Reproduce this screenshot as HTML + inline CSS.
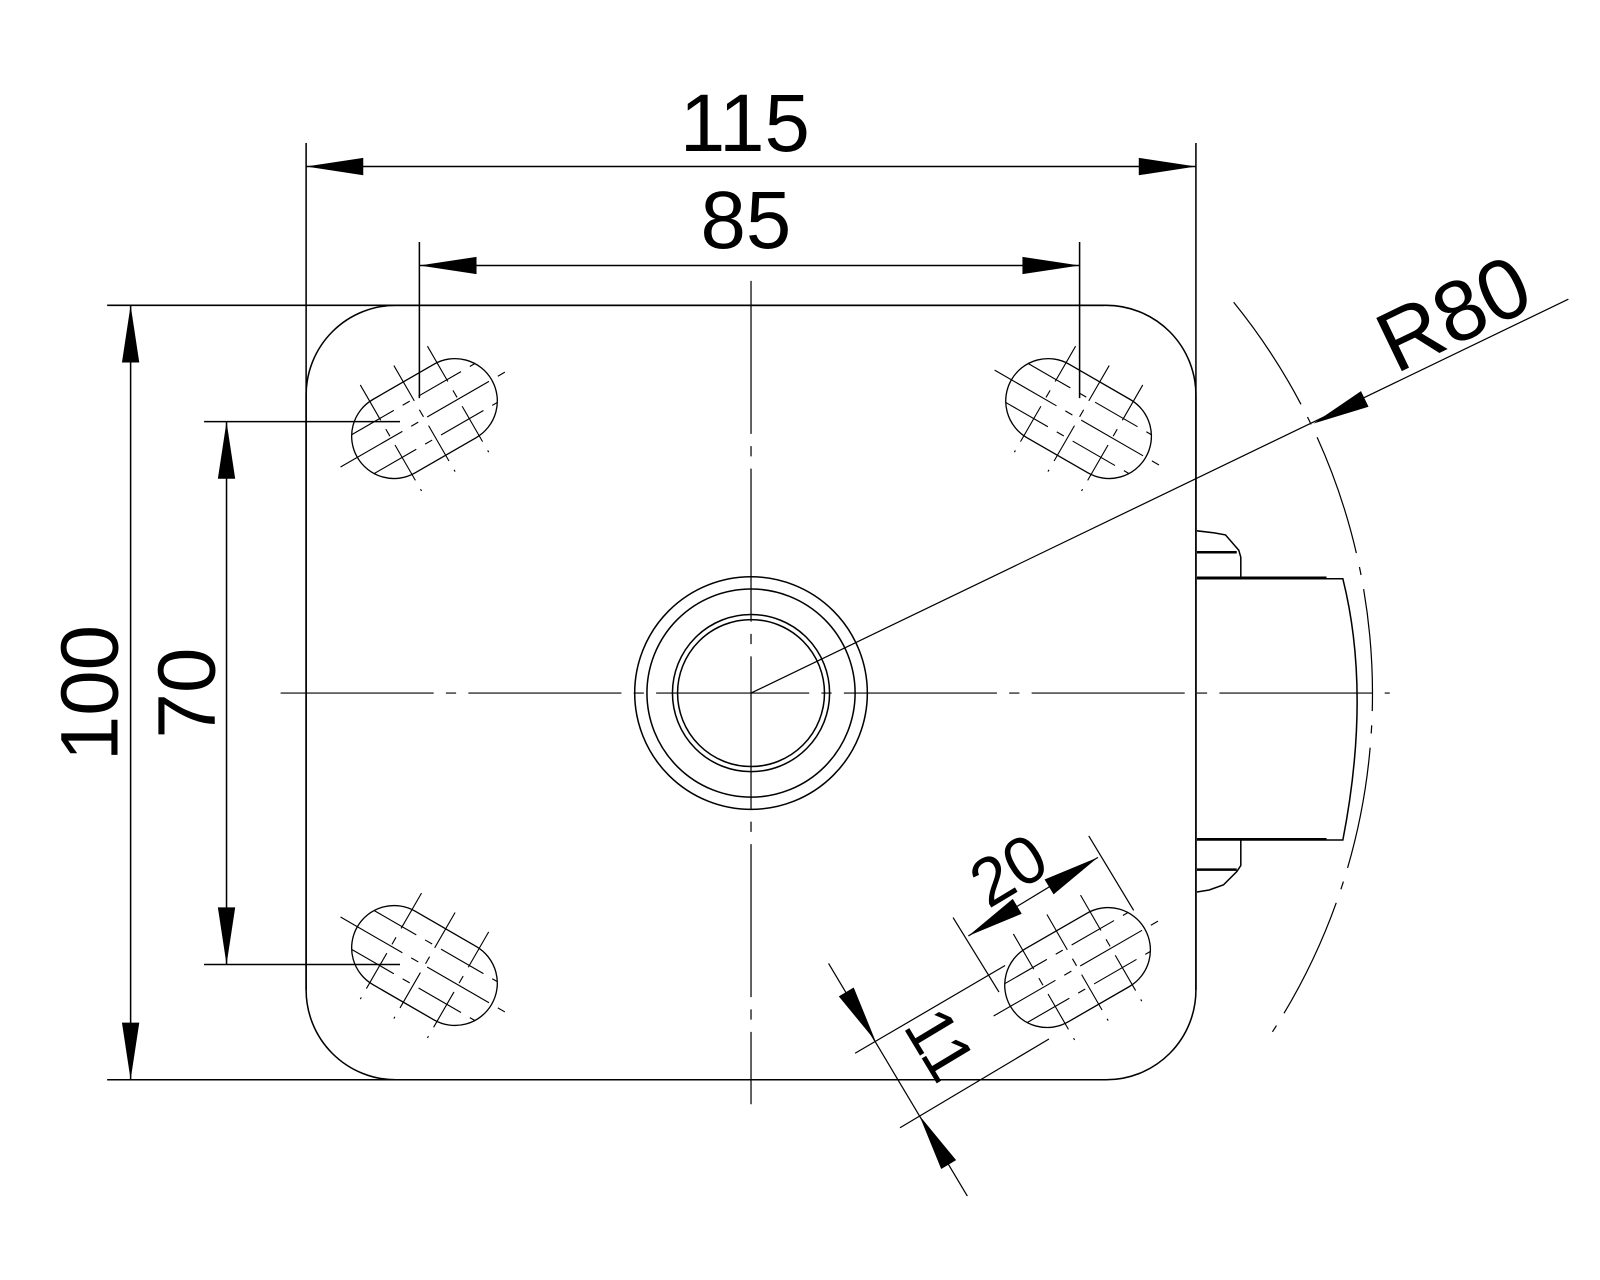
<!DOCTYPE html>
<html><head><meta charset="utf-8"><style>html,body{margin:0;padding:0;background:#fff}svg{display:block}</style></head>
<body>
<svg width="1600" height="1280" viewBox="0 0 1568 1254" xmlns="http://www.w3.org/2000/svg">
<defs>
<g id="slot">
  <rect x="-76" y="-41.5" width="152" height="83" rx="41.5" fill="none" stroke="#000" stroke-width="1.3"/>
  <g stroke="#000" stroke-width="1.1">
    <line x1="-95" y1="0" x2="95" y2="0" stroke-dasharray="70 10 8 10"/>
    <line x1="-70" y1="-22" x2="70" y2="-22" stroke-dasharray="48 10 8 10"/>
    <line x1="-70" y1="22" x2="70" y2="22" stroke-dasharray="48 10 8 10"/>
    <line x1="-38" y1="-60" x2="-38" y2="60" stroke-dasharray="40 10 8 10"/>
    <line x1="0" y1="-60" x2="0" y2="60" stroke-dasharray="40 10 8 10"/>
    <line x1="38" y1="-60" x2="38" y2="60" stroke-dasharray="40 10 8 10"/>
  </g>
</g>
</defs>
<g fill="none" stroke="#000" stroke-width="1.5">
  <!-- plate -->
  <rect x="300" y="299" width="872" height="759" rx="88" ry="88"/>
  <!-- extension lines -->
  <line x1="300" y1="140" x2="300" y2="970"/>
  <line x1="1172" y1="140" x2="1172" y2="970"/>
  <line x1="411" y1="237" x2="411" y2="390"/>
  <line x1="1058" y1="237" x2="1058" y2="390"/>
  <line x1="105" y1="299" x2="1082" y2="299"/>
  <line x1="105" y1="1058" x2="1082" y2="1058"/>
  <line x1="200" y1="413" x2="392" y2="413"/>
  <line x1="200" y1="945" x2="392" y2="945"/>
  <!-- dim lines -->
  <line x1="300" y1="163" x2="1172" y2="163"/>
  <line x1="411" y1="260" x2="1058" y2="260"/>
  <line x1="128" y1="299" x2="128" y2="1058"/>
  <line x1="222" y1="413" x2="222" y2="945"/>
  <!-- center circles -->
  <circle cx="736" cy="679" r="114"/>
  <circle cx="736" cy="679" r="102"/>
  <circle cx="736" cy="679" r="77"/>
  <circle cx="736" cy="679" r="72"/>
  <!-- right part -->
  <path d="M1173 567 L1316 567 Q1344 679 1316 823 L1173 823"/>
  <path d="M1173 520 L1190 522 L1201 524 L1214 539 L1216 546 L1216 567"/>
  <path d="M1173 874 L1185 872 L1199 867 L1212 854 L1216 848 L1216 823"/>
  <line x1="1173" y1="541" x2="1212" y2="541" stroke-width="2.5"/>
  <line x1="1173" y1="852" x2="1212" y2="852" stroke-width="2.5"/>
  <line x1="1173" y1="566" x2="1300" y2="566" stroke-width="2.5"/>
  <line x1="1173" y1="822" x2="1300" y2="822" stroke-width="2"/>
  <!-- R80 arc -->
  <path d="M1209 296 A609 609 0 0 1 1247 1011" stroke-width="1.2" stroke-dasharray="120 14 8 14"/>
  <line x1="736" y1="679" x2="1537" y2="293" stroke-width="1.2"/>
  <!-- 20 / 11 dims -->
  <line x1="934" y1="899" x2="979" y2="972" stroke-width="1.2"/>
  <line x1="1067" y1="819" x2="1111" y2="892" stroke-width="1.2"/>
  <line x1="949" y1="917" x2="1076" y2="840" stroke-width="1.2"/>
  <line x1="838" y1="1032" x2="985" y2="946" stroke-width="1.2"/>
  <line x1="882" y1="1105" x2="1028" y2="1018" stroke-width="1.2"/>
  <line x1="812" y1="944" x2="948" y2="1172" stroke-width="1.2"/>
</g>
<!-- center lines -->
<g stroke="#000" stroke-width="1.2">
  <line x1="275" y1="679" x2="1362" y2="679" stroke-dasharray="150 12 10 12"/>
  <line x1="736" y1="275" x2="736" y2="1082" stroke-dasharray="150 12 10 12"/>
</g>
<!-- slots -->
<use href="#slot" transform="translate(416,410) rotate(-30)"/>
<use href="#slot" transform="translate(1057,410) rotate(30)"/>
<use href="#slot" transform="translate(416,946) rotate(30)"/>
<use href="#slot" transform="translate(1056,948) rotate(-30)"/>
<!-- arrows -->
<g fill="#000">
  <polygon points="300,163 356,154.5 356,171.5"/>
  <polygon points="1172,163 1116,154.5 1116,171.5"/>
  <polygon points="411,260 467,251.5 467,268.5"/>
  <polygon points="1058,260 1002,251.5 1002,268.5"/>
  <polygon points="128,299 119.5,355 136.5,355"/>
  <polygon points="128,1058 119.5,1002 136.5,1002"/>
  <polygon points="222,413 213.5,469 230.5,469"/>
  <polygon points="222,945 213.5,889 230.5,889"/>
  <polygon points="0,0 -56,-8.5 -56,8.5" transform="translate(1287,415) rotate(154.3)"/>
  <polygon points="0,0 -56,-8.5 -56,8.5" transform="translate(949,917) rotate(148.8)"/>
  <polygon points="0,0 -56,-8.5 -56,8.5" transform="translate(1076,840) rotate(-31.2)"/>
  <polygon points="0,0 -56,-8.5 -56,8.5" transform="translate(858,1020) rotate(59.2)"/>
  <polygon points="0,0 -56,-8.5 -56,8.5" transform="translate(901,1093) rotate(-120.8)"/>
</g>
<!-- text -->
<g font-family="Liberation Sans, sans-serif" font-size="80" fill="#000" text-anchor="middle">
  <text x="730" y="148">115</text>
  <text x="731" y="243">85</text>
  <text transform="translate(115,679) rotate(-90)">100</text>
  <text transform="translate(210,679) rotate(-90)">70</text>
  <text transform="translate(1437,333) rotate(-25.7)" font-size="84">R80</text>
  <text transform="translate(1000,872) rotate(-31)" font-size="66">20</text>
  <text transform="translate(902,1035) rotate(59)" font-size="66">11</text>
</g>
</svg>
</body></html>
